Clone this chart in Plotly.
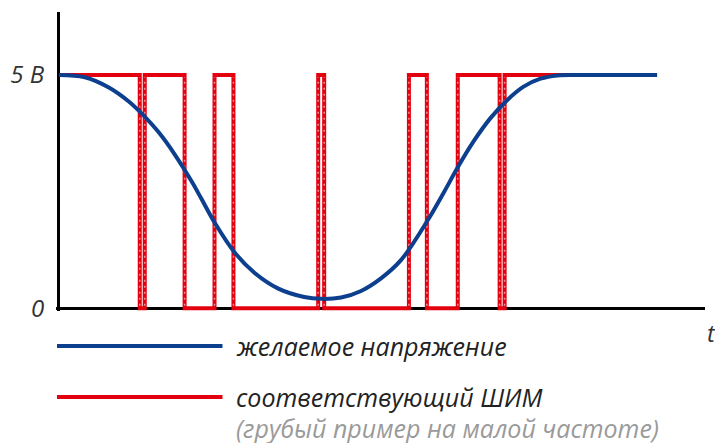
import plotly.graph_objects as go

# Desired (smooth) voltage
t_desired = [0.00, 0.26, 0.50, 0.70, 0.83, 1.00, 1.16, 1.33, 1.43, 1.56, 1.76,
             1.96, 2.20, 2.46, 2.63, 2.83, 3.03, 3.23, 3.43, 3.70, 3.86, 4.00,
             4.16, 4.33, 4.50, 4.66, 4.83, 5.00, 5.20, 5.50, 6.00]
v_desired = [5.00, 4.95, 4.73, 4.43, 4.17, 3.77, 3.30, 2.72, 2.34, 1.84, 1.20,
             0.76, 0.42, 0.24, 0.20, 0.23, 0.37, 0.64, 1.03, 1.89, 2.48, 3.02,
             3.58, 4.08, 4.47, 4.75, 4.92, 4.99, 5.00, 5.00, 5.00]

# PWM switching instants and the level held from each instant
pwm_t = [0.00, 0.81, 0.86, 1.26, 1.56, 1.75, 2.60, 2.66, 3.51, 3.69, 4.00,
         4.42, 4.47, 5.23]
pwm_v = [5, 0, 5, 0, 5, 0, 5, 0, 5, 0, 5, 0, 5, 5]

y_tickvals = [0, 5]
y_ticktext = ["<i>0</i>", "<i>5 B</i>"]

legend_labels = ["желаемое напряжение", "соответствующий ШИМ",
                 "(грубый пример на малой частоте)"]

BLUE = "#0c3f8e"
RED = "#e3000f"
FONT = "Open Sans"

# plot-area geometry in pixels (for placing the hand-made legend)
L, T, W, H = 54, 12, 651, 299


def px(x):
    return (x - L) / W


def py(y):
    return (T + H - y) / H


fig = go.Figure()
fig.add_trace(go.Scatter(x=pwm_t, y=pwm_v, mode="lines",
                         line=dict(color=RED, width=4, shape="hv"),
                         hoverinfo="skip"))

# light speckle on the vertical PWM edges (as in the original drawing)
vx, vy = [], []
for e in pwm_t[1:-1]:
    vx += [e, e, None]
    vy += [0.05, 4.95, None]
fig.add_trace(go.Scatter(x=vx, y=vy, mode="lines",
                         line=dict(color="rgba(255,255,255,0.55)", width=1.5,
                                   dash="2px,4px"),
                         hoverinfo="skip"))

fig.add_trace(go.Scatter(x=t_desired, y=v_desired, mode="lines",
                         line=dict(color=BLUE, width=4, shape="spline", smoothing=1.0),
                         hoverinfo="skip"))

fig.update_layout(
    width=715, height=443,
    margin=dict(l=L, r=715 - L - W, t=T, b=443 - T - H),
    paper_bgcolor="white", plot_bgcolor="white",
    showlegend=False,
    xaxis=dict(range=[-0.03, 6.48], showgrid=False, showticklabels=False,
               zeroline=True, zerolinecolor="black", zerolinewidth=3,
               showline=False, fixedrange=True),
    yaxis=dict(range=[-0.06, 6.35], showgrid=False,
               tickvals=y_tickvals, ticktext=y_ticktext,
               ticks="outside", ticklen=6, tickcolor="rgba(0,0,0,0)",
               tickfont=dict(family=FONT, size=24, color="#333333"),
               zeroline=True, zerolinecolor="black", zerolinewidth=3,
               showline=False, fixedrange=True),
)

# axis name "t"
fig.add_annotation(xref="paper", yref="paper", x=px(705), y=py(332),
                   text="<i>t</i>", showarrow=False, xanchor="left", yanchor="middle",
                   font=dict(family=FONT, size=24, color="#333333"))

# legend (drawn manually)
fig.add_shape(type="line", xref="paper", yref="paper",
              x0=px(55), x1=px(221), y0=py(346), y1=py(346),
              line=dict(color=BLUE, width=4))
fig.add_shape(type="line", xref="paper", yref="paper",
              x0=px(55), x1=px(221), y0=py(397), y1=py(397),
              line=dict(color=RED, width=4))
fig.add_annotation(xref="paper", yref="paper", x=px(233), y=py(346),
                   text="<i>" + legend_labels[0] + "</i>", showarrow=False,
                   xanchor="left", yanchor="middle",
                   font=dict(family=FONT, size=25, color="#222222"))
fig.add_annotation(xref="paper", yref="paper", x=px(233), y=py(397),
                   text="<i>" + legend_labels[1] + "</i>", showarrow=False,
                   xanchor="left", yanchor="middle",
                   font=dict(family=FONT, size=25, color="#222222"))
fig.add_annotation(xref="paper", yref="paper", x=px(233), y=py(428),
                   text="<i>" + legend_labels[2] + "</i>", showarrow=False,
                   xanchor="left", yanchor="middle",
                   font=dict(family=FONT, size=25, color="#9a9a9a"))

fig.write_html("out.html", config={"displayModeBar": False},
               post_script="document.body.style.margin='0px';")
